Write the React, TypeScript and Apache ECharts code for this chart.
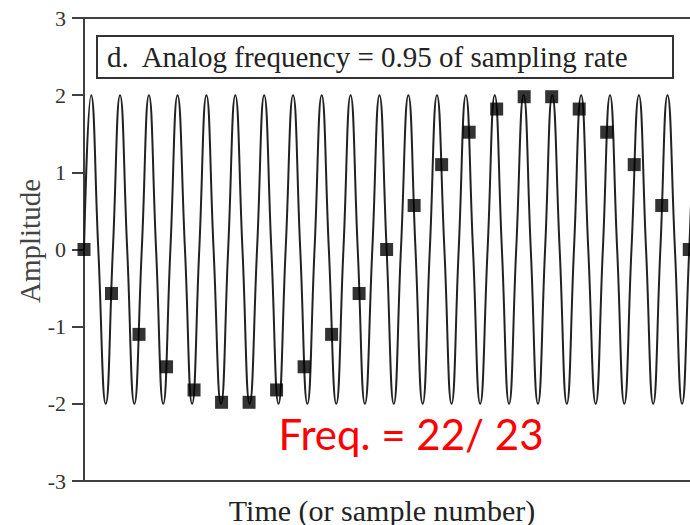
import React, { useEffect, useRef } from "react";
import * as echarts from "echarts";

// Sample numbers and sampled amplitudes (black squares)
const sampleNumbers = [0, 1, 2, 3, 4, 5, 6, 7, 8, 9, 10, 11, 12, 13, 14, 15, 16, 17, 18, 19, 20, 21, 22];
const sampleValues = [0, -0.57, -1.1, -1.52, -1.82, -1.98, -1.98, -1.82, -1.52, -1.1, -0.57, 0, 0.57, 1.1, 1.52, 1.82, 1.98, 1.98, 1.82, 1.52, 1.1, 0.57, 0];

// Analog waveform: zero crossings, peaks and troughs
const curveTimes = [
  0.0, 0.26, 0.52, 0.79, 1.05, 1.31, 1.57, 1.83, 2.1, 2.36, 2.62, 2.88, 3.14, 3.4, 3.67, 3.93,
  4.19, 4.45, 4.71, 4.98, 5.24, 5.5, 5.76, 6.02, 6.29, 6.55, 6.81, 7.07, 7.33, 7.6, 7.86, 8.12,
  8.38, 8.64, 8.9, 9.17, 9.43, 9.69, 9.95, 10.21, 10.48, 10.74, 11.0, 11.26, 11.52, 11.79, 12.05, 12.31,
  12.57, 12.83, 13.1, 13.36, 13.62, 13.88, 14.14, 14.4, 14.67, 14.93, 15.19, 15.45, 15.71, 15.98, 16.24, 16.5,
  16.76, 17.02, 17.29, 17.55, 17.81, 18.07, 18.33, 18.6, 18.86, 19.12, 19.38, 19.64, 19.9, 20.17, 20.43, 20.69,
  20.95, 21.21, 21.48, 21.74, 22.0, 22.26, 22.52,
];
const curveValues = [
  0, 2, 0, -2, 0, 2, 0, -2, 0, 2, 0, -2, 0, 2, 0, -2,
  0, 2, 0, -2, 0, 2, 0, -2, 0, 2, 0, -2, 0, 2, 0, -2,
  0, 2, 0, -2, 0, 2, 0, -2, 0, 2, 0, -2, 0, 2, 0, -2,
  0, 2, 0, -2, 0, 2, 0, -2, 0, 2, 0, -2, 0, 2, 0, -2,
  0, 2, 0, -2, 0, 2, 0, -2, 0, 2, 0, -2, 0, 2, 0, -2,
  0, 2, 0, -2, 0, 2, 0,
];

const yTicks = [-3, -2, -1, 0, 1, 2, 3];

const legendText = "d.  Analog frequency = 0.95 of sampling rate";
const xTitle = "Time (or sample number)";
const yTitle = "Amplitude";
const note = "Freq. = 22/ 23";

export default function App() {
  const ref = useRef<HTMLDivElement>(null);
  useEffect(() => {
    document.body.style.margin = "0";
    const chart = echarts.init(ref.current!, undefined, { renderer: "svg" });
    const serif = "Liberation Serif";
    chart.setOption({
      animation: false,
      backgroundColor: "#ffffff",
      grid: {
        left: 84,
        top: 18,
        width: 619,
        height: 463,
        containLabel: false,
        outerBoundsMode: "none",
        show: true,
        borderColor: "#404040",
        borderWidth: 2,
      },
      xAxis: {
        type: "value",
        min: 0,
        max: 22.5,
        axisLine: { show: true, onZero: false, lineStyle: { color: "#404040", width: 2 } },
        axisTick: { show: false },
        axisLabel: { show: false },
        splitLine: { show: false },
      },
      yAxis: {
        type: "value",
        min: yTicks[0],
        max: yTicks[yTicks.length - 1],
        interval: 1,
        axisLine: { show: true, onZero: false, lineStyle: { color: "#404040", width: 2 } },
        axisTick: { show: true, inside: false, length: 12, lineStyle: { color: "#404040", width: 2 } },
        axisLabel: { margin: 18, color: "#333333", fontFamily: serif, fontSize: 22 },
        splitLine: { show: false },
      },
      series: [
        {
          type: "line",
          data: curveTimes.map((t, i) => [t, curveValues[i]]),
          smooth: 0.5,
          showSymbol: false,
          symbol: "none",
          clip: true,
          lineStyle: { color: "#222222", width: 2 },
          z: 2,
        },
        {
          type: "scatter",
          data: sampleNumbers.map((n, i) => [n, sampleValues[i]]),
          symbol: "rect",
          symbolSize: 13,
          clip: false,
          itemStyle: { color: "#000000" },
          z: 3,
        },
      ],
      graphic: [
        {
          type: "rect",
          shape: { x: 97, y: 36, width: 576, height: 42 },
          style: { fill: "#ffffff", stroke: "#333333", lineWidth: 2 },
          z: 10,
        },
        {
          type: "text",
          x: 107,
          y: 57,
          style: { text: legendText, font: `29px "${serif}"`, fill: "#222222", verticalAlign: "middle", align: "left" },
          z: 11,
        },
        {
          type: "text",
          x: 382,
          y: 510,
          style: { text: xTitle, font: `30px "${serif}"`, fill: "#222222", verticalAlign: "middle", align: "center" },
        },
        {
          type: "text",
          x: 30,
          y: 241,
          rotation: Math.PI / 2,
          style: { text: yTitle, font: `29px "${serif}"`, fill: "#444444", verticalAlign: "middle", align: "center" },
        },
        {
          type: "text",
          x: 411,
          y: 434,
          style: { text: note, font: `42px Lato`, fill: "#ff0000", verticalAlign: "middle", align: "center" },
          z: 12,
        },
      ],
    });
    return () => chart.dispose();
  }, []);
  return <div ref={ref} style={{ width: 690, height: 525 }} />;
}
